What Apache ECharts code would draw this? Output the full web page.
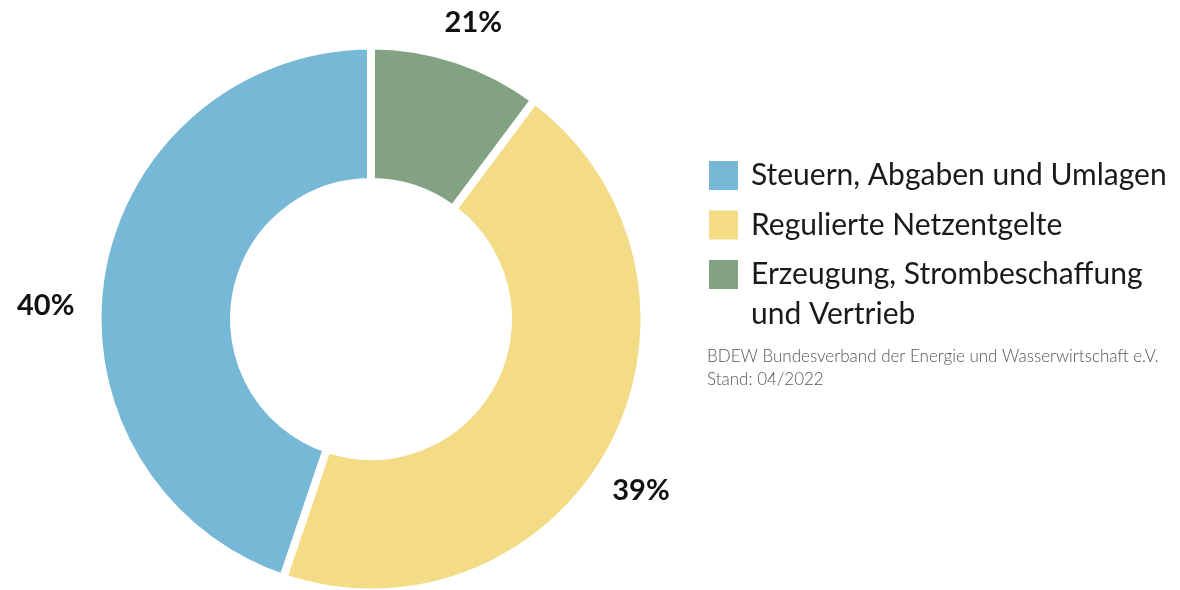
<!DOCTYPE html>
<html lang="de">
<head>
    <meta charset="UTF-8">
    <title>Strompreis Zusammensetzung</title>
    <style>
        html, body { margin: 0; padding: 0; background: #fff; }
        #main { width: 1180px; height: 590px; }
    </style>
    <script src="https://cdn.jsdelivr.net/npm/echarts@6/dist/echarts.min.js"></script>
</head>
<body>
<div id="main"></div>
<script>
// Kategorien (Reihenfolge der Legende)
var categories = ['Steuern, Abgaben und Umlagen', 'Regulierte Netzentgelte', 'Erzeugung, Strombeschaffung\nund Vertrieb'];
// Segmentgroessen, aus den Winkeln
var sliceValues = [44.8, 45.0, 10.2];
// Beschriftungen wie im Bild
var labelTexts = ['40%', '39%', '21%'];
var colors = ['#77B8D6', '#F3DC85', '#82A283'];
var sourceLines = ['BDEW Bundesverband der Energie und Wasserwirtschaft e.V.', 'Stand: 04/2022'];

// kleine Verschiebung der Prozentlabels
var labelShift = [[-11, 38], [-12, 23], [2, 6]];

var font = 'Lato, "Noto Sans", sans-serif';

var pieData = categories.map(function (name, i) {
    return { name: name, value: sliceValues[i], itemStyle: { color: colors[i] } };
});

var legendBase = {
    orient: 'vertical',
    left: 707,
    padding: 0,
    itemWidth: 31,
    itemHeight: 31,
    itemGap: 9.5,
    icon: 'rect',
    selectedMode: false,
    textStyle: {
        fontFamily: font,
        fontSize: 30,
        lineHeight: 40,
        color: '#1a1a1a',
        padding: [0, 0, 0, 7]
    }
};

var chart = echarts.init(document.getElementById('main'));
var option = {
    animation: false,
    backgroundColor: '#fff',
    title: {
        text: sourceLines.join('\n'),
        left: 707,
        top: 345,
        padding: 0,
        textStyle: {
            fontFamily: font,
            fontSize: 17,
            fontWeight: 300,
            lineHeight: 23,
            color: '#555'
        }
    },
    legend: [
        echarts.util.merge({ top: 155.5, data: categories.slice(0, 2) }, legendBase),
        // zweizeiliger Eintrag: leere Zeile davor, damit das Quadrat auf Hoehe der ersten Zeile sitzt
        echarts.util.merge({
            top: 214.5,
            data: categories.slice(2),
            formatter: function (name) { return '\n' + name; }
        }, legendBase)
    ],
    series: [
        {
            type: 'pie',
            center: [371, 319],
            radius: [137, 273.5],
            startAngle: 90,
            clockwise: false,
            avoidLabelOverlap: false,
            emphasis: { disabled: true },
            itemStyle: {
                borderColor: '#fff',
                borderWidth: 8
            },
            label: {
                show: true,
                position: 'outside',
                distanceToLabelLine: 0,
                bleedMargin: 0,
                overflow: 'none',
                fontFamily: font,
                fontSize: 29,
                fontWeight: 'bold',
                color: '#111',
                formatter: function (p) { return labelTexts[p.dataIndex]; }
            },
            labelLine: { show: false, length: 45, length2: 0 },
            labelLayout: function (p) {
                return {
                    align: 'center',
                    verticalAlign: 'middle',
                    dx: labelShift[p.dataIndex][0],
                    dy: labelShift[p.dataIndex][1]
                };
            },
            data: pieData
        }
    ]
};
chart.setOption(option);
</script>
</body>
</html>
